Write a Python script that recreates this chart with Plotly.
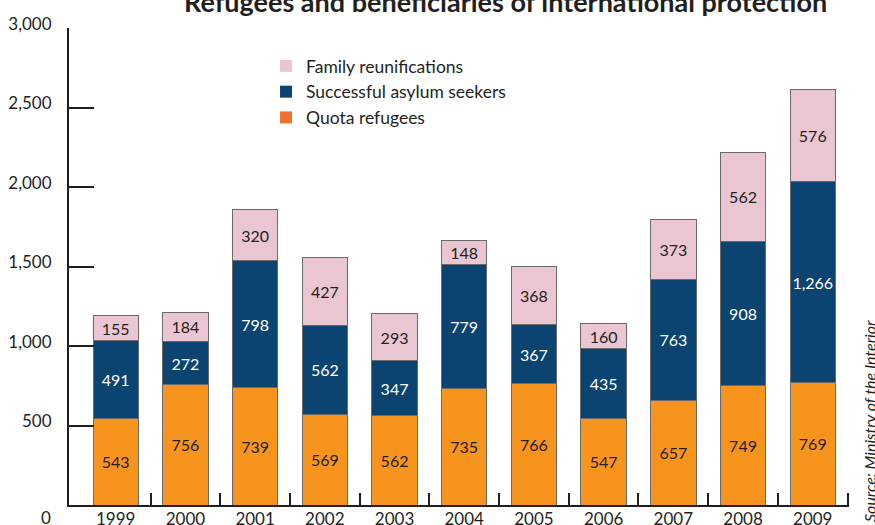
import plotly.graph_objects as go

# Data: refugees and beneficiaries of international protection, by year
years = ["1999", "2000", "2001", "2002", "2003", "2004", "2005", "2006", "2007", "2008", "2009"]
quota_refugees = [543, 756, 739, 569, 562, 735, 766, 547, 657, 749, 769]
asylum_seekers = [491, 272, 798, 562, 347, 779, 367, 435, 763, 908, 1266]
family_reunifications = [155, 184, 320, 427, 293, 148, 368, 160, 373, 562, 576]

y_tickvals = [0, 500, 1000, 1500, 2000, 2500, 3000]
y_ticktext = ["", "500", "1,000", "1,500", "2,000", "2,500", "3,000"]

FONT = "Lato, 'Open Sans', sans-serif"
INK = "#231F20"
C_QUOTA = "#F7941D"
C_ASYLUM = "#0B4470"
C_FAMILY = "#EAC6D3"
# legend swatch colours
L_QUOTA = "#EE7330"

x = list(range(len(years)))
X_RANGE = [-0.67, 10.52]

fig = go.Figure()

series = [
    ("Quota refugees", quota_refugees, C_QUOTA, INK),
    ("Successful asylum seekers", asylum_seekers, C_ASYLUM, "white"),
    ("Family reunifications", family_reunifications, C_FAMILY, INK),
]
for name, vals, col, tcol in series:
    fig.add_trace(go.Bar(
        x=x, y=vals, name=name, showlegend=False,
        marker=dict(color=col, line=dict(color="#6a6a6a", width=1)),
        texttemplate="%{y:,}", textposition="inside", insidetextanchor="middle",
        constraintext="none", textangle=0,
        textfont=dict(family=FONT, size=16, color=tcol),
        hoverinfo="skip",
    ))

# legend-only entries
for name, col in [("Family reunifications", C_FAMILY),
                  ("Successful asylum seekers", C_ASYLUM),
                  ("Quota refugees", L_QUOTA)]:
    fig.add_trace(go.Bar(x=[None], y=[None], name=name,
                         marker=dict(color=col, line=dict(width=0)), showlegend=True))

# carrier for the year-label axis
fig.add_trace(go.Scatter(x=[None], y=[None], xaxis="x2", showlegend=False, hoverinfo="skip"))

fig.update_layout(
    width=875, height=525,
    margin=dict(l=69, r=26, t=28, b=20),
    paper_bgcolor="white", plot_bgcolor="white",
    barmode="stack", bargap=0.35,
    font=dict(family=FONT, size=15, color=INK),
    showlegend=True,
    legend=dict(x=0.2526, y=0.958, xanchor="left", yanchor="top",
                traceorder="normal", font=dict(family=FONT, size=17.5, color=INK),
                bgcolor="rgba(0,0,0,0)", tracegroupgap=0),
    # category boundary ticks
    xaxis=dict(
        range=X_RANGE, tickmode="array", tickvals=[i + 0.5 for i in x],
        ticks="inside", ticklen=12, tickwidth=2, tickcolor=INK,
        showticklabels=False, showgrid=False, zeroline=False,
        showline=True, linecolor=INK, linewidth=2, automargin=False,
    ),
    # year labels
    xaxis2=dict(
        range=X_RANGE, overlaying="x", anchor="y", side="bottom",
        tickmode="array", tickvals=x, ticktext=years, ticks="",
        showgrid=False, zeroline=False, showline=False, automargin=False,
        tickfont=dict(family=FONT, size=17, color=INK), ticklabelstandoff=2,
    ),
    yaxis=dict(
        range=[0, 3000], tickmode="array", tickvals=y_tickvals, ticktext=y_ticktext,
        ticks="inside", ticklen=25, tickwidth=2, tickcolor=INK,
        showgrid=False, zeroline=False,
        showline=True, linecolor=INK, linewidth=2,
        tickfont=dict(family=FONT, size=17, color=INK),
        ticklabelstandoff=12, ticklabelshift=-4, automargin=False,
    ),
)

fig.add_annotation(text="0", xref="paper", yref="y", x=0, y=0, xanchor="right",
                   yanchor="middle", xshift=-16, yshift=-12, showarrow=False,
                   font=dict(family=FONT, size=17, color=INK))

fig.add_annotation(text="<b>Refugees and beneficiaries of international protection</b>",
                   xref="paper", yref="paper", x=0.56, y=1.0556, xanchor="center",
                   yanchor="middle", showarrow=False,
                   font=dict(family=FONT, size=27, color=INK))

fig.add_annotation(text="<i>Source: Ministry of the Interior</i>",
                   xref="paper", yref="paper", x=1.0256, y=0.392, xanchor="center",
                   yanchor="top", textangle=-90, showarrow=False,
                   font=dict(family=FONT, size=16, color=INK))

fig.write_html("out.html")
